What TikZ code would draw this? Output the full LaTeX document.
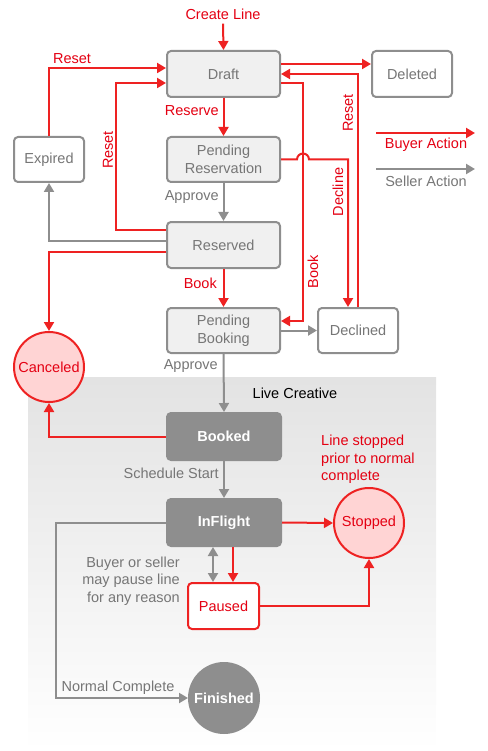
\documentclass[tikz,border=0pt]{standalone}
\usepackage{fontspec}
\setmainfont{Liberation Sans}
\usetikzlibrary{arrows.meta,calc,positioning}
\definecolor{rl}{RGB}{238,34,34}
\definecolor{rt}{RGB}{228,0,18}
\definecolor{gl}{RGB}{142,142,142}
\definecolor{gt}{RGB}{118,118,118}
\definecolor{bfill}{RGB}{240,240,240}
\definecolor{dfill}{RGB}{142,142,142}
\definecolor{pfill}{RGB}{255,212,212}
\tikzset{
  every node/.style={font=\fontsize{14.5}{17.5}\selectfont},
  box/.style={draw=gl,line width=2pt,rounded corners=4pt,fill=bfill,text=gt,
    minimum width=113pt,minimum height=46pt,inner sep=0pt,align=center},
  wbox/.style={box,fill=white},
  dbox/.style={box,draw=dfill,fill=dfill,text=white,font=\fontsize{14.5}{17.5}\selectfont\bfseries},
  pbox/.style={box,draw=rl,fill=white,text=rt},
  rcirc/.style={circle,draw=rl,line width=2pt,fill=pfill,text=rt,minimum size=70pt,inner sep=0pt},
  dcirc/.style={circle,draw=dfill,line width=2pt,fill=dfill,text=white,minimum size=70pt,inner sep=0pt,font=\fontsize{14.5}{17.5}\selectfont\bfseries},
  ra/.style={draw=rl,line width=2pt,-{Triangle[length=9pt,width=10pt]}},
  ga/.style={draw=gl,line width=2pt,-{Triangle[length=9pt,width=10pt]}},
  rlab/.style={text=rt,inner sep=0pt},
  glab/.style={text=gt,inner sep=0pt},
}
\begin{document}
\begin{tikzpicture}[x=1pt,y=-1pt]
\useasboundingbox (0,0) rectangle (487,751);
% background region
\shade[top color=black!11,bottom color=white] (28,377) rectangle (436,751);
\node[inner sep=0pt,text=black] (live) at (295,393) {Live Creative};

% nodes
\node[box] (draft) at (223.5,74) {Draft};
\node[box,minimum height=45pt] (pr) at (223.5,159.5) {Pending\\Reservation};
\node[box] (resv) at (223.5,245) {Reserved};
\node[box,minimum height=45pt] (pb) at (223.5,330.5) {Pending\\Booking};
\node[dbox,minimum width=114pt,minimum height=47pt] (booked) at (224,436.5) {Booked};
\node[dbox,minimum width=114pt,minimum height=47pt] (infl) at (224,522.5) {InFlight};
\node[pbox,minimum width=71pt] (paused) at (223.5,606) {Paused};
\node[wbox,minimum width=70pt,minimum height=45pt] (expired) at (49,159.5) {Expired};
\node[wbox,minimum width=80pt] (deleted) at (412,74) {Deleted};
\node[wbox,minimum width=80pt,minimum height=45pt] (declined) at (358,330.5) {Declined};
\node[rcirc] (canceled) at (49,367) {Canceled};
\node[rcirc] (stopped) at (369,523) {Stopped};
\node[dcirc] (finished) at (224,698) {Finished};

% create line
\node[rlab] (create) at (223,14) {Create Line};
\draw[ra] ([yshift=-4pt]create.south) -- (draft.north);

% top connectors
\draw[ra] ([yshift=10pt]draft.east) -- ([yshift=10pt]deleted.west);
\draw[ra] (declined.north) -- (declined.north |- draft.east) -- (draft.east);
\node[rlab,rotate=90] (lreset3) at (348,113) {Reset};
\draw[ra] ([yshift=-9pt]draft.east) -| ($(pb.east)+(22,-9.5)$) -- ([yshift=9.5pt]pb.east);
\node[rlab,rotate=90] (lbook2) at (313,272) {Book};
\coordinate (declin) at ($(declined.north)+(-10,0)$);
\draw[ra] (pr.east) -- ++(16,0) arc[start angle=180,end angle=0,radius=6pt] -- (declin |- pr.east) -- (declin);
\node[rlab,rotate=90] (ldecline) at (338,192) {Decline};

% main spine
\draw[ra] (draft.south) -- (pr.north);
\node[rlab,anchor=east] (lreserve) at (219,111) {Reserve};
\draw[ga] (pr.south) -- (resv.north);
\node[glab,anchor=east] (lapprove1) at (219,197) {Approve};
\draw[ra] (resv.south) -- (pb.north);
\node[rlab,anchor=east] (lbook1) at (217,283) {Book};
\draw[ga] (pb.south) -- (booked.north);
\node[glab,anchor=east] (lapprove2) at (218,366) {Approve};
\draw[ga] (booked.south) -- (infl.north);
\node[glab,anchor=east] (lsched) at (219,473) {Schedule Start};
\draw[ga] (pb.east) -- (declined.west);

% left side
\draw[ra] ([yshift=15pt]resv.west) -- ++(-50,0) |- ([yshift=-9pt]draft.west);
\node[rlab,rotate=90] (lreset2) at (108,150) {Reset};
\draw[ra] (expired.north) |- ([yshift=6pt]draft.west);
\node[rlab] (lreset1) at (72,59) {Reset};
\draw[ga] ([yshift=4pt]resv.west) -| (expired.south);
\draw[ra] ([yshift=-7pt]resv.west) -| (canceled.north);
\draw[ra] (booked.west) -| (canceled.south);

% lower part
\node[rlab,align=left,anchor=north west] (lstop) at (321,435) {Line stopped\\prior to normal\\complete};
\draw[ra] (infl.east) -- (stopped.west);
\coordinate (pa) at ($(infl.south)+(-11,0)$);
\coordinate (pb2) at ($(infl.south)+(9,0)$);
\draw[ga,{Triangle[length=9pt,width=10pt]}-{Triangle[length=9pt,width=10pt]}] (pa) -- (pa |- paused.north);
\draw[ra] (pb2) -- (pb2 |- paused.north);
\node[glab,align=right,anchor=east] (lpause) at (180,581) {Buyer or seller\\may pause line\\for any reason};
\draw[ra] (paused.east) -| (stopped.south);
\draw[ga] (infl.west) -- ++(-110,0) |- (finished.west);
\node[glab] (lnormal) at (118,688) {Normal Complete};

% legend
\coordinate (lr1) at (376,133);
\coordinate (lr2) at (475,133);
\coordinate (lg1) at (376,169);
\coordinate (lg2) at (475,169);
\draw[ra] (lr1) -- (lr2);
\draw[ga] (lg1) -- (lg2);
\node[rlab] (lbuyer) at (426,145) {Buyer Action};
\node[glab] (lseller) at (426,181) {Seller Action};
\end{tikzpicture}
\end{document}
